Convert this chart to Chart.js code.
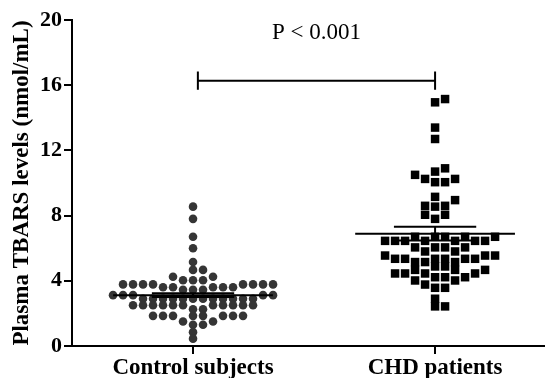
<!DOCTYPE html>
<html>
<head>
<meta charset="utf-8">
<script src="https://cdn.jsdelivr.net/npm/chart.js@4.4.1/dist/chart.umd.min.js"></script>
<style>
  body { margin: 0; background: #fff; }
  #wrap { width: 550px; height: 378px; }
</style>
</head>
<body>
<div id="wrap"><canvas id="chart"></canvas></div>
<script>
// groups on the x axis
const groups = ['Control subjects', 'CHD patients'];

// individual values (nmol/mL)
const controlVals = [
  8.55, 7.8, 6.7, 6.0, 5.15,
  4.67, 4.67, 4.25, 4.25, 4.03, 4.03, 4.03,
  3.78, 3.78, 3.78, 3.78, 3.78, 3.78, 3.78, 3.78,
  3.6, 3.6, 3.6, 3.6, 3.6, 3.45, 3.45, 3.45,
  3.12, 3.12, 3.12, 3.12, 3.12,
  2.9, 2.9, 2.9, 2.9, 2.9, 2.9, 2.9, 2.9, 2.9, 2.9, 2.9, 2.9,
  2.5, 2.5, 2.5, 2.5, 2.5, 2.5, 2.5, 2.5, 2.5, 2.5, 2.5,
  2.25, 2.25,
  1.85, 1.85, 1.85, 1.85, 1.85, 1.85, 1.85, 1.85,
  1.5, 1.5, 1.3, 1.3, 0.85, 0.45
];
const chdVals = [
  15.15, 14.95, 13.4, 12.7, 10.9, 10.7, 10.5, 10.25, 10.25, 10.05, 10.05,
  9.15, 8.95, 8.6, 8.6, 8.55, 8.05, 8.05, 7.8,
  6.7, 6.7, 6.7, 6.7, 6.7, 6.45, 6.45, 6.45, 6.45, 6.45, 6.45, 6.45,
  6.05, 6.05, 6.05, 6.05, 5.8, 5.8, 5.55, 5.55, 5.55,
  5.35, 5.35, 5.35, 5.35, 5.35, 5.35, 5.15, 5.15, 5.15,
  4.88, 4.88, 4.67, 4.67, 4.67, 4.45, 4.45, 4.45, 4.45,
  4.22, 4.22, 4.22, 4.02, 4.02, 3.77, 3.57, 3.57, 2.9, 2.43, 2.43
];

// mean and SEM bars as drawn
const groupMeans = [3.12, 6.89];
const groupSems = [0.12, 0.42];

// significance bracket
const bracketFrom = 1.02;
const bracketTo = 2;
const bracketY = 16.27;
const bracketTick = [15.72, 16.84];
const pLabel = 'P < 0.001';
const pLabelY = 19.2;

const yMax = 20;
const yStep = 4;

const FONT = '"Liberation Serif", "Times New Roman", serif';
const GAP_X = 10;      // px between neighbours in a row
const GAP_Y = [6, 7.5]; // rows closer than this must not share a column

const lineSets = [];
function seg(x1, y1, x2, y2, w) {
  lineSets.push({
    type: 'line',
    data: [{ x: x1, y: y1 }, { x: x2, y: y2 }],
    borderColor: '#000',
    borderWidth: w,
    pointRadius: 0,
    fill: false,
    order: 0
  });
}
groupMeans.forEach((m, i) => {
  const g = i + 1, s = groupSems[i];
  seg(g - 0.33, m, g + 0.33, m, 2);
  seg(g - 0.17, m + s, g + 0.17, m + s, 2);
  seg(g - 0.17, m - s, g + 0.17, m - s, 2);
  seg(g, m - s, g, m + s, 2);
});
seg(bracketFrom, bracketY, bracketTo, bracketY, 2);
seg(bracketFrom, bracketTick[0], bracketFrom, bracketTick[1], 2);
seg(bracketTo, bracketTick[0], bracketTo, bracketTick[1], 2);

const pText = {
  id: 'pText',
  afterDraw(chart) {
    const { ctx, scales } = chart;
    const x = (scales.x.getPixelForValue(bracketFrom) + scales.x.getPixelForValue(bracketTo)) / 2;
    ctx.save();
    ctx.font = '23px ' + FONT;
    ctx.fillStyle = '#000';
    ctx.textAlign = 'center';
    ctx.textBaseline = 'middle';
    ctx.fillText(pLabel, x, scales.y.getPixelForValue(pLabelY));
    ctx.restore();
  }
};

const chart = new Chart(document.getElementById('chart'), {
  type: 'scatter',
  data: {
    datasets: [
      {
        data: controlVals.map(v => ({ x: 1, y: v })),
        pointStyle: 'circle',
        pointRadius: 4.3,
        backgroundColor: '#353535',
        borderWidth: 0,
        order: 1
      },
      {
        data: chdVals.map(v => ({ x: 2, y: v })),
        pointStyle: 'rect',
        pointRadius: 6,
        backgroundColor: '#000',
        borderWidth: 0,
        order: 1
      },
      ...lineSets
    ]
  },
  options: {
    responsive: true,
    maintainAspectRatio: false,
    animation: false,
    layout: { padding: { top: 20, right: 0, bottom: 0, left: 0 } },
    plugins: { legend: { display: false }, tooltip: { enabled: false } },
    scales: {
      x: {
        type: 'linear',
        min: 0.5,
        max: 2.45,
        afterBuildTicks: s => { s.ticks = groups.map((g, i) => ({ value: i + 1 })); },
        afterFit: s => { s.height = 32; },
        ticks: {
          color: '#000',
          padding: 0,
          maxRotation: 0,
          font: { family: FONT, size: 23, weight: 'bold' },
          callback: v => groups[Math.round(v) - 1]
        },
        grid: { drawOnChartArea: false, color: '#000', lineWidth: 2, tickLength: 8 },
        border: { color: '#000', width: 2 }
      },
      y: {
        min: 0,
        max: yMax,
        afterFit: s => { s.width = 72; },
        ticks: {
          stepSize: yStep,
          color: '#000',
          padding: 2,
          font: { family: FONT, size: 22, weight: 'bold' }
        },
        grid: { drawOnChartArea: false, color: '#000', lineWidth: 2, tickLength: 8 },
        border: { color: '#000', width: 2 },
        title: {
          display: true,
          text: 'Plasma TBARS levels (nmol/mL)',
          color: '#000',
          padding: { top: 8, bottom: 0 },
          font: { family: FONT, size: 23, weight: 'bold' }
        }
      }
    }
  },
  plugins: [pText]
});

// spread close values side by side, like a column scatter plot
function swarmOffsets(vals, ys, gapY) {
  const placed = [];
  const offs = new Array(vals.length);
  vals.map((v, i) => i).sort((a, b) => vals[a] - vals[b]).forEach(i => {
    const py = ys.getPixelForValue(vals[i]);
    for (let k = 0; k < 400; k++) {
      const dx = (k % 2 ? 1 : -1) * Math.ceil(k / 2);
      const hit = placed.some(p => Math.abs(p.x - dx) < GAP_X && Math.abs(p.y - py) < gapY);
      if (!hit) {
        offs[i] = dx;
        placed.push({ x: dx, y: py });
        break;
      }
    }
  });
  return offs;
}

const xs = chart.scales.x, ys = chart.scales.y;
const unit = xs.getPixelForValue(1) - xs.getPixelForValue(0);
[controlVals, chdVals].forEach((vals, g) => {
  const offs = swarmOffsets(vals, ys, GAP_Y[g]);
  chart.data.datasets[g].data = vals.map((v, i) => ({ x: g + 1 + offs[i] / unit, y: v }));
});
chart.update('none');
</script>
</body>
</html>
